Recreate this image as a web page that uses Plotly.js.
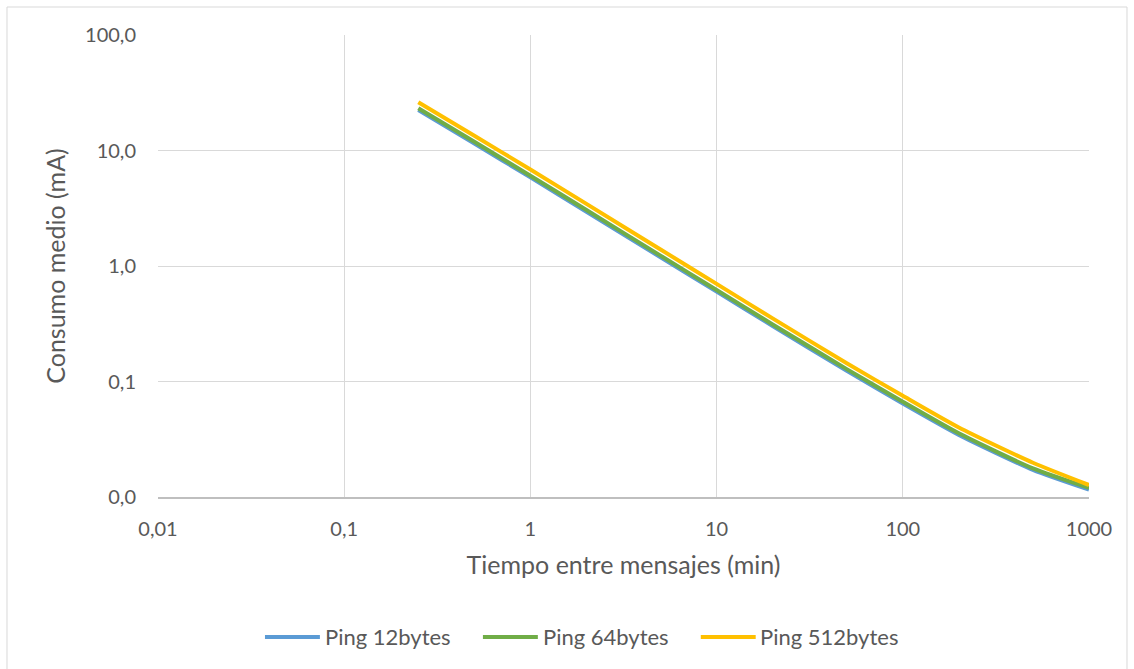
<!DOCTYPE html>
<html>
<head>
<meta charset="utf-8">
<script src="https://cdn.plot.ly/plotly-3.0.1.min.js"></script>
<style>
  html, body { margin: 0; padding: 0; background: #ffffff; }
  #chart { width: 1134px; height: 669px; }
</style>
</head>
<body>
<div id="chart"></div>
<script>
// Tiempo entre mensajes (min)
const tiempos = [0.25, 0.5, 1, 2, 5, 10, 20, 50, 100, 200, 500, 1000];

// Consumo medio (mA) por tamaño de ping
const ping12 = [22.4, 11.5, 5.85, 2.95, 1.19, 0.60, 0.302, 0.124, 0.0645, 0.0345, 0.0172, 0.0116];
const ping64 = [23.2, 11.9, 6.05, 3.05, 1.23, 0.62, 0.312, 0.128, 0.0668, 0.0356, 0.0177, 0.0120];
const ping512 = [26.2, 13.4, 6.85, 3.45, 1.39, 0.70, 0.352, 0.144, 0.0752, 0.0400, 0.0198, 0.0127];

const seriesNames = ['Ping 12bytes', 'Ping 64bytes', 'Ping 512bytes'];
const seriesColors = ['#5B9BD5', '#70AD47', '#FFC000'];
const seriesValues = [ping12, ping64, ping512];

const xTickVals = [0.01, 0.1, 1, 10, 100, 1000];
const xTickText = ['0,01', '0,1', '1', '10', '100', '1000'];
const yTickVals = [0.01, 0.1, 1, 10, 100];
const yTickText = ['0,0', '0,1', '1,0', '10,0', '100,0'];

const FONT = 'Lato, "Open Sans", sans-serif';
const TEXT = '#595959';

const traces = seriesValues.map((vals, i) => ({
  type: 'scatter',
  mode: 'lines',
  x: tiempos,
  y: vals,
  name: seriesNames[i],
  line: { color: seriesColors[i], width: 4, shape: 'spline', smoothing: 0.6 },
  showlegend: false,
  hoverinfo: 'x+y+name'
}));

// Legend drawn below the plot: a line sample followed by the series name
const legendY = -0.303;
const legendStarts = [0.1149, 0.349, 0.583];
const sampleLen = 0.059;
const shapes = [];
const annotations = [];
seriesNames.forEach((name, i) => {
  shapes.push({
    type: 'line', xref: 'paper', yref: 'paper',
    x0: legendStarts[i], x1: legendStarts[i] + sampleLen,
    y0: legendY, y1: legendY,
    line: { color: seriesColors[i], width: 4 }
  });
  annotations.push({
    xref: 'paper', yref: 'paper',
    x: legendStarts[i] + sampleLen + 0.003, y: legendY,
    xanchor: 'left', yanchor: 'middle',
    text: name, showarrow: false,
    font: { family: FONT, size: 22, color: TEXT }
  });
});

// Outer chart frame
shapes.push({
  type: 'rect', xref: 'paper', yref: 'paper',
  x0: -0.1622, x1: 1.0408, y0: -0.40, y1: 1.0606,
  line: { color: '#d9d9d9', width: 1 },
  fillcolor: 'rgba(0,0,0,0)'
});

const layout = {
  width: 1134,
  height: 669,
  margin: { l: 158, r: 45, t: 35, b: 172 },
  paper_bgcolor: '#ffffff',
  plot_bgcolor: '#ffffff',
  font: { family: FONT, color: TEXT, size: 20 },
  showlegend: false,
  xaxis: {
    type: 'log',
    range: [-2, 3],
    tickvals: xTickVals,
    ticktext: xTickText,
    showgrid: true,
    gridcolor: '#d9d9d9',
    gridwidth: 1,
    showline: true,
    linecolor: '#bfbfbf',
    linewidth: 1.5,
    zeroline: false,
    ticks: '',
    ticklabelstandoff: 13,
    tickfont: { family: FONT, size: 20, color: TEXT },
    title: { text: 'Tiempo entre mensajes (min)', font: { family: FONT, size: 25, color: TEXT }, standoff: 18 }
  },
  yaxis: {
    type: 'log',
    range: [-2, 2],
    tickvals: yTickVals,
    ticktext: yTickText,
    showgrid: true,
    gridcolor: '#d9d9d9',
    gridwidth: 1,
    showline: false,
    zeroline: false,
    ticks: '',
    ticklabelstandoff: 21,
    tickfont: { family: FONT, size: 20, color: TEXT },
    title: { text: 'Consumo medio (mA)', font: { family: FONT, size: 25, color: TEXT }, standoff: 12 }
  },
  shapes: shapes,
  annotations: annotations
};

Plotly.newPlot('chart', traces, layout, { displayModeBar: false, staticPlot: true });
</script>
</body>
</html>
